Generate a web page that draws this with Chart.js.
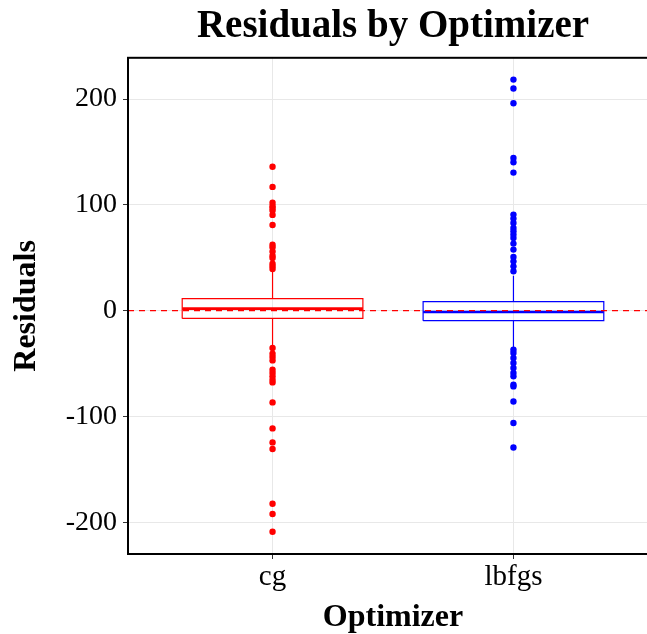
<!DOCTYPE html>
<html>
<head>
<meta charset="utf-8">
<script src="https://cdn.jsdelivr.net/npm/chart.js@4.4.1/dist/chart.umd.min.js"></script>
<style>
  html, body { margin: 0; padding: 0; overflow: hidden; background: #fff; }
  #wrap { width: 786px; height: 634px; }
</style>
</head>
<body>
<div id="wrap"><canvas id="graficoResiduos"></canvas></div>
<script>
// Dados
const categories = ['cg', 'lbfgs'];
const colors = ['#ff0000', '#0000ff'];
const q1 = [-7.3, -9.5];
const medians = [1.9, -1.2];
const q3 = [11.3, 8.5];
const whiskerLow = [-33.7, -36];
const whiskerHigh = [37, 33];
const outliersCg = [136, 117, 102, 99, 97, 94.6, 90.5, 81, 62.4, 60, 56, 52, 49.8, 44.4, 42, 39.4,
  -35.3, -40.7, -43.8, -47, -55.8, -58.9, -62.1, -65.2, -67.8, -86.7, -111.3, -124.5, -130.8,
  -182.5, -192.2, -209];
const outliersLbfgs = [218.4, 210, 196, 144.4, 140.3, 130.5, 90.8, 87, 82.9, 78.2, 75, 71.9, 68.7,
  63.4, 57.7, 50.8, 46.6, 41.9, 37.2,
  -36.9, -40, -44.7, -49.5, -54.2, -58.9, -62.1, -70, -71.6, -85.8, -106.2, -129.3];
const outliers = [outliersCg, outliersLbfgs];
const yTicks = [-200, -100, 0, 100, 200];

const boxHalf = 0.375;
const serif = "'Liberation Serif', 'Times New Roman', serif";

Chart.defaults.font.family = serif;
Chart.defaults.color = '#000';

const datasets = [];

// linha tracejada em zero (desenhada por cima)
datasets.push({
  data: [{ x: 0.4, y: 0 }, { x: 2.6, y: 0 }],
  showLine: true, borderColor: '#ff0000', borderWidth: 1.2, borderDash: [6, 5],
  pointRadius: 0
});

categories.forEach((c, i) => {
  const x = i + 1;
  const col = colors[i];
  // mediana
  datasets.push({
    data: [{ x: x - boxHalf, y: medians[i] }, { x: x + boxHalf, y: medians[i] }],
    showLine: true, borderColor: col, borderWidth: 2.6, pointRadius: 0
  });
  // caixa
  datasets.push({
    data: [
      { x: x - boxHalf, y: q1[i] }, { x: x + boxHalf, y: q1[i] },
      { x: x + boxHalf, y: q3[i] }, { x: x - boxHalf, y: q3[i] },
      { x: x - boxHalf, y: q1[i] }
    ],
    showLine: true, borderColor: col, borderWidth: 1.2, pointRadius: 0,
    backgroundColor: '#fff', fill: false
  });
  // bigodes
  datasets.push({
    data: [{ x: x, y: q3[i] }, { x: x, y: whiskerHigh[i] }],
    showLine: true, borderColor: col, borderWidth: 1.2, pointRadius: 0
  });
  datasets.push({
    data: [{ x: x, y: q1[i] }, { x: x, y: whiskerLow[i] }],
    showLine: true, borderColor: col, borderWidth: 1.2, pointRadius: 0
  });
  // outliers
  datasets.push({
    data: outliers[i].map(v => ({ x: x, y: v })),
    showLine: false, pointRadius: 3.2, pointBorderWidth: 0,
    pointBackgroundColor: col, pointBorderColor: col
  });
});

const panelBorder = {
  id: 'panelBorder',
  afterDraw(chart) {
    const { ctx, chartArea: a } = chart;
    ctx.save();
    ctx.strokeStyle = '#000';
    ctx.lineWidth = 2;
    ctx.strokeRect(a.left, a.top, a.right - a.left, a.bottom - a.top);
    ctx.restore();
  }
};

const ctx = document.getElementById('graficoResiduos');

if (ctx) {
  new Chart(ctx, {
    type: 'scatter',
    data: { datasets },
    plugins: [panelBorder],
    options: {
      responsive: true,
      maintainAspectRatio: false,
      animation: false,
      layout: { padding: { left: 0, right: 128, top: 0, bottom: 0 } },
      scales: {
        x: {
          type: 'linear',
          min: 0.4, max: 2.6,
          afterBuildTicks: axis => { axis.ticks = categories.map((c, i) => ({ value: i + 1 })); },
          afterFit: axis => { axis.height = 80; },
          ticks: {
            font: { size: 29 }, padding: 1, color: '#000',
            callback: v => categories[v - 1]
          },
          grid: { color: '#e8e8e8', lineWidth: 1, tickLength: 5, tickColor: '#333' },
          border: { display: false },
          title: {
            display: true, text: 'Optimizer',
            font: { size: 32, weight: 'bold' }, padding: { top: 0, bottom: -3 }
          }
        },
        y: {
          min: -230, max: 239,
          afterBuildTicks: axis => { axis.ticks = yTicks.map(v => ({ value: v })); },
          afterFit: axis => { axis.width = 128; },
          ticks: { font: { size: 28 }, padding: 6, color: '#000' },
          grid: { color: '#e8e8e8', lineWidth: 1, tickLength: 5, tickColor: '#333' },
          border: { display: false },
          title: {
            display: true, text: 'Residuals',
            font: { size: 32, weight: 'bold' }, padding: { top: 8, bottom: 0 }
          }
        }
      },
      plugins: {
        legend: { display: false },
        tooltip: { enabled: false },
        title: {
          display: true, text: 'Residuals by Optimizer',
          fullSize: false,
          font: { size: 39, weight: 'bold' }, color: '#000',
          padding: { top: 4, bottom: 7 }
        }
      }
    }
  });
} else {
  console.error("Canvas 'graficoResiduos' não encontrado!");
}
</script>
</body>
</html>
